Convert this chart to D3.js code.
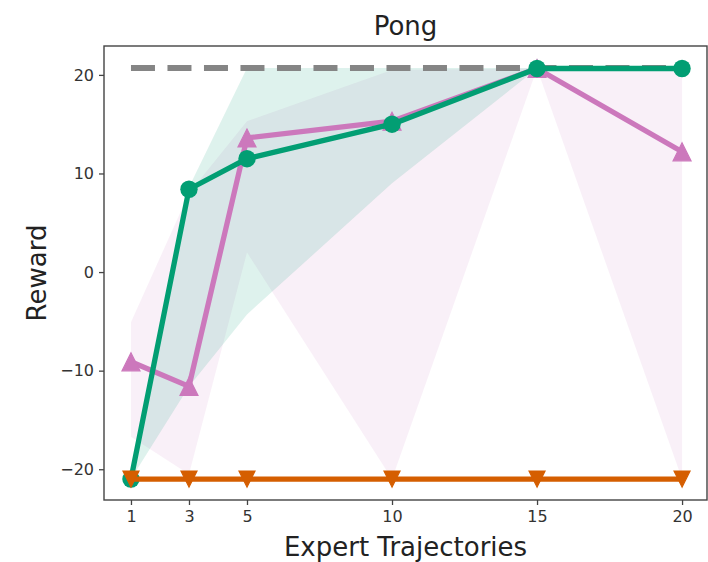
<!DOCTYPE html>
<html>
<head>
<meta charset="utf-8">
<script src="https://cdn.jsdelivr.net/npm/d3@7"></script>
<style>
  html, body { margin: 0; padding: 0; background: #fff; }
  svg { display: block; font-family: "DejaVu Sans", sans-serif; }
</style>
</head>
<body>
<svg id="chart" width="708" height="562"></svg>
<script>
// Number of expert trajectories on the x axis
const trajectories = [1, 3, 5, 10, 15, 20];

// Mean reward and band bounds for each method
const greenMean = [-21, 8.4, 11.5, 15.0, 20.65, 20.65];
const greenLow  = [-21, -11.6, -4.3, 9.0, 20.65, 20.65];
const greenHigh = [-21, 8.6, 20.7, 20.7, 20.7, 20.7];

const pinkMean = [-9.1, -11.6, 13.6, 15.3, 20.65, 12.2];
const pinkLow  = [-16.7, -20.5, 2.0, -21, 20.65, -21];
const pinkHigh = [-5.1, 8.0, 15.3, 20.5, 20.65, 20.65];

const orangeMean = [-21, -21, -21, -21, -21, -21];
const orangeLow  = [-21, -21, -21, -21, -21, -21];
const orangeHigh = [-21, -21, -21, -21, -21, -21];

// Expert performance reference level
const expertReward = 20.7;

const xTicks = [1, 3, 5, 10, 15, 20];
const yTicks = [-20, -10, 0, 10, 20];

const colors = { green: "#029e73", pink: "#cc78bc", orange: "#d55e00", expert: "#858585" };

const svg = d3.select("#chart");
const plot = { left: 104, right: 707, top: 46, bottom: 500 };

const x = d3.scaleLinear().domain([0.07, 20.86]).range([plot.left, plot.right]);
const y = d3.scaleLinear().domain([-23.12, 22.93]).range([plot.bottom, plot.top]);

svg.append("clipPath").attr("id", "plot-clip")
  .append("rect")
  .attr("x", plot.left).attr("y", plot.top)
  .attr("width", plot.right - plot.left).attr("height", plot.bottom - plot.top);

const area = d3.area()
  .x(d => x(d.x)).y0(d => y(d.lo)).y1(d => y(d.hi));
const line = d3.line().x(d => x(d.x)).y(d => y(d.y));

function rows(mean, lo, hi) {
  return trajectories.map((t, i) => ({ x: t, y: mean[i], lo: lo[i], hi: hi[i] }));
}

const series = [
  { name: "pink", data: rows(pinkMean, pinkLow, pinkHigh), color: colors.pink, marker: "up", alpha: 0.11 },
  { name: "green", data: rows(greenMean, greenLow, greenHigh), color: colors.green, marker: "circle", alpha: 0.13 },
  { name: "orange", data: rows(orangeMean, orangeLow, orangeHigh), color: colors.orange, marker: "down", alpha: 0.13 }
];

const g = svg.append("g").attr("clip-path", "url(#plot-clip)");

// Shaded bands
series.forEach(s => {
  g.append("path").datum(s.data)
    .attr("d", area)
    .attr("fill", s.color)
    .attr("fill-opacity", s.alpha)
    .attr("stroke", "none");
});

// Expert reference (dashed)
g.append("path")
  .datum([{ x: trajectories[0], y: expertReward }, { x: trajectories[trajectories.length - 1], y: expertReward }])
  .attr("d", line)
  .attr("fill", "none")
  .attr("stroke", colors.expert)
  .attr("stroke-width", 6)
  .attr("stroke-dasharray", "24,12.5");

// Marker shapes
function triPath(cx, cy, s, dir) {
  const h = s / 2;
  if (dir === "up") return `M${cx},${cy - h}L${cx - h},${cy + h}L${cx + h},${cy + h}Z`;
  return `M${cx},${cy + h}L${cx - h},${cy - h}L${cx + h},${cy - h}Z`;
}

// Lines and markers
series.forEach(s => {
  const sg = g.append("g");
  sg.append("path").datum(s.data)
    .attr("d", line)
    .attr("fill", "none")
    .attr("stroke", s.color)
    .attr("stroke-width", 5.3)
    .attr("stroke-linejoin", "round");
  if (s.marker === "circle") {
    sg.selectAll("circle").data(s.data).join("circle")
      .attr("cx", d => x(d.x)).attr("cy", d => y(d.y))
      .attr("r", 8.7)
      .attr("fill", s.color);
  } else {
    const size = s.marker === "up" ? 18 : 16;
    sg.selectAll("path.m").data(s.data).join("path")
      .attr("class", "m")
      .attr("d", d => triPath(x(d.x), y(d.y), size, s.marker))
      .attr("fill", s.color)
      .attr("stroke", s.color)
      .attr("stroke-width", 1.2)
      .attr("stroke-linejoin", "miter");
  }
});

// Axes
const xAxis = d3.axisBottom(x).tickValues(xTicks).tickSize(5).tickPadding(6).tickFormat(d3.format("d"));
const yAxis = d3.axisLeft(y).tickValues(yTicks).tickSize(5).tickPadding(5)
  .tickFormat(d => d < 0 ? "\u2212" + Math.abs(d) : String(d));

const gx = svg.append("g").attr("transform", `translate(0,${plot.bottom})`).call(xAxis);
const gy = svg.append("g").attr("transform", `translate(${plot.left},0)`).call(yAxis);

[gx, gy].forEach(ax => {
  ax.select(".domain").remove();
  ax.selectAll(".tick line").attr("stroke", "#444").attr("stroke-width", 1.3);
  ax.selectAll(".tick text").attr("fill", "#333").style("font-size", "16px")
    .style("font-family", "'DejaVu Sans', sans-serif");
});

// Frame
svg.append("rect")
  .attr("x", plot.left).attr("y", plot.top)
  .attr("width", plot.right - plot.left).attr("height", plot.bottom - plot.top)
  .attr("fill", "none").attr("stroke", "#444").attr("stroke-width", 1.4);

// Title and axis labels
const cx = (plot.left + plot.right) / 2;
svg.append("text").attr("x", cx).attr("y", 35)
  .attr("text-anchor", "middle").attr("fill", "#222")
  .style("font-size", "26px").text("Pong");

svg.append("text").attr("x", cx).attr("y", 556)
  .attr("text-anchor", "middle").attr("fill", "#222")
  .style("font-size", "26px").text("Expert Trajectories");

svg.append("text")
  .attr("transform", `translate(46,${(plot.top + plot.bottom) / 2}) rotate(-90)`)
  .attr("text-anchor", "middle").attr("fill", "#222")
  .style("font-size", "26px").text("Reward");
</script>
</body>
</html>
